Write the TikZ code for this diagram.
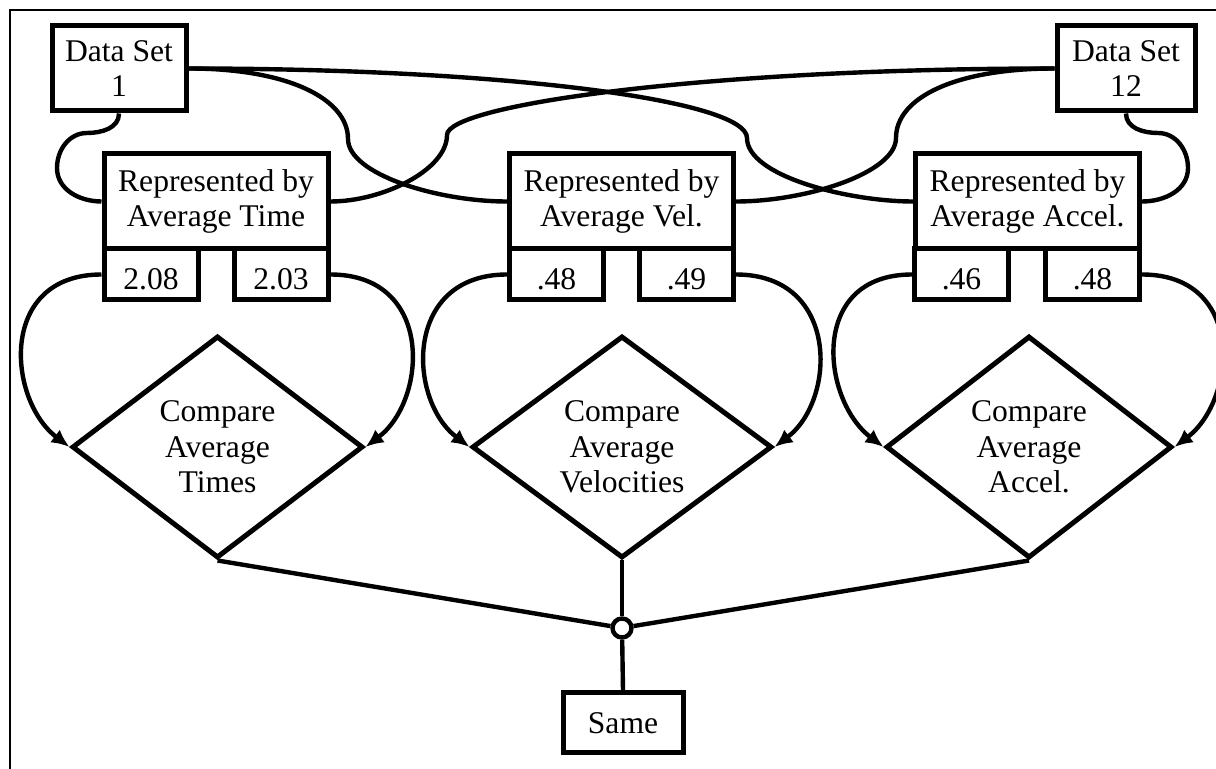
\documentclass[tikz,border=0pt]{standalone}
\usepackage{fontspec}
\setmainfont{Liberation Serif}
\usetikzlibrary{shapes.geometric,arrows.meta}

\begin{document}
\begin{tikzpicture}[x=0.5pt,y=-0.5pt,
  txt/.style={font=\fontsize{15.8}{17.8}\selectfont},
  box/.style={draw,line width=2.5pt,inner sep=0pt,align=center,fill=white,txt},
  dsbox/.style={box,minimum height=42.5pt},
  repbox/.style={box,minimum width=112pt,minimum height=47.5pt},
  valbox/.style={box,minimum width=47pt,minimum height=25.5pt,text height=14.8pt,text depth=0pt},
  decision/.style={diamond,draw,line width=2.5pt,inner sep=0pt,aspect=1.3,
    align=center,minimum height=111pt,txt},
  junction/.style={circle,draw,fill=white,line width=2.2pt,inner sep=0pt,minimum size=9.5pt},
  link/.style={line width=2.2pt},
  flow/.style={link,-{Latex[length=9pt,width=8pt]}},
]
\useasboundingbox (0,0) rectangle (1216,769);

% partial frame
\draw[line width=1.4pt] (10,780) -- (10,10) -- (1230,10);

% data sets
\node[dsbox,minimum width=67pt] (ds1)  at (119,68.5)  {Data Set\\1};
\node[dsbox,minimum width=69pt] (ds12) at (1126,68.5) {Data Set\\12};

% representations
\node[repbox] (rt) at (216,201.5)    {Represented by\\Average Time};
\node[repbox] (rv) at (621.5,201.5)  {Represented by\\Average Vel.};
\node[repbox] (ra) at (1027.5,201.5) {Represented by\\Average Accel.};

% values
\node[valbox] (t1) at (151,274.5)    {2.08};
\node[valbox] (t2) at (281,274.5)    {2.03};
\node[valbox] (v1) at (556.5,274.5)  {.48};
\node[valbox] (v2) at (686.5,274.5)  {.49};
\node[valbox] (a1) at (961.5,274.5)  {.46};
\node[valbox] (a2) at (1092.5,274.5) {.48};

% comparisons
\node[decision,minimum width=145.5pt] (ct) at (217.5,447) {Compare\\Average\\Times};
\node[decision,minimum width=150pt]   (cv) at (622,447)   {Compare\\Average\\Velocities};
\node[decision,minimum width=143pt]   (ca) at (1029,447)  {Compare\\Average\\Accel.};

\node[junction] (j) at (622,628) {};
\node[box,minimum width=60pt,minimum height=30pt] (same) at (623,723) {Same};

% waypoints of the set-to-representation links
\coordinate (h1a) at (87,133);
\coordinate (h1b) at (57,168);
\coordinate (h2a) at (1158,133);
\coordinate (h2b) at (1188,168);
\coordinate (s1) at (348,139);
\coordinate (s2) at (896,138);
\coordinate (s3) at (747,138);
\coordinate (s4) at (447,135);

% data sets to representations
\draw[link] (ds1.south) to[out=-90,in=0] (h1a) to[out=180,in=90] (h1b)
  to[out=-90,in=180] (rt.west);
\draw[link] (ds12.south) to[out=-90,in=180] (h2a) to[out=0,in=90] (h2b)
  to[out=-90,in=0] (ra.east);
\draw[link] (ds1.east) .. controls +(100,0) and +(0,-40) .. (s1)
  .. controls +(0,35) and +(-70,0) .. (rv.west);
\draw[link] (ds12.west) .. controls +(-100,0) and +(0,-40) .. (s2)
  .. controls +(0,35) and +(70,0) .. (rv.east);
\draw[link] (ds1.east) .. controls +(314,0) and +(0,-38) .. (s3)
  .. controls +(0,38) and +(-65,0) .. (ra.west);
\draw[link] (ds12.west) .. controls +(-350,0) and +(0,-30) .. (s4)
  .. controls +(0,35) and +(52,0) .. (rt.east);

% values into comparisons
\draw[flow] (t1.west) .. controls +(-104,0) and +(-62,-47) .. (ct.west);
\draw[flow] (t2.east) .. controls +(104,0) and +(62,-47) .. (ct.east);
\draw[flow] (v1.west) .. controls +(-104,0) and +(-62,-47) .. (cv.west);
\draw[flow] (v2.east) .. controls +(104,0) and +(62,-47) .. (cv.east);
\draw[flow] (a1.west) .. controls +(-104,0) and +(-62,-47) .. (ca.west);
\draw[flow] (a2.east) .. controls +(104,0) and +(62,-47) .. (ca.east);

% comparisons to result
\draw[link] (ct.south) -- (j);
\draw[link] (cv.south) -- (j);
\draw[link] (ca.south) -- (j);
\draw[link] (j) -- (same.north);
\end{tikzpicture}
\end{document}
